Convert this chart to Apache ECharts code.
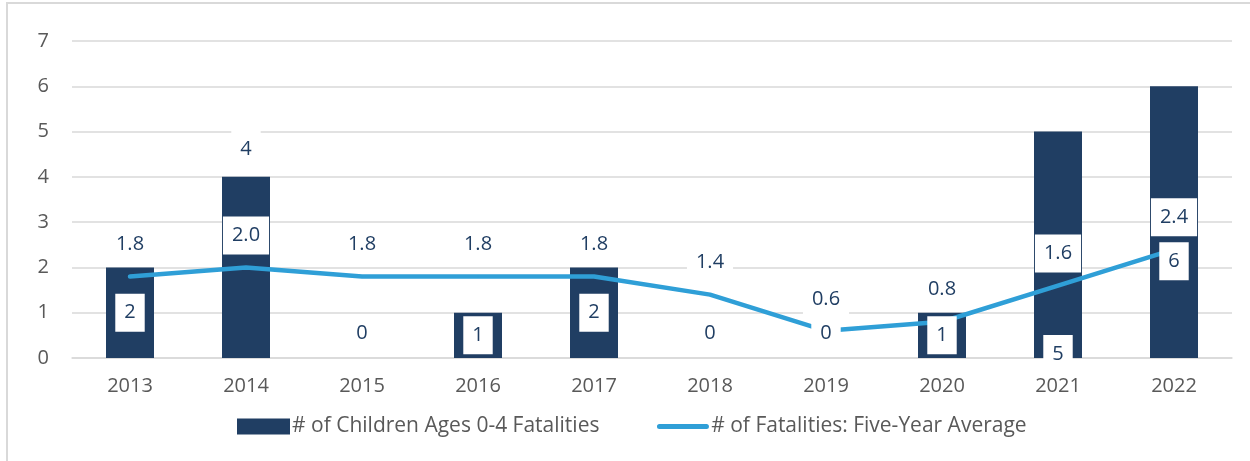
<!DOCTYPE html>
<html>
<head>
<meta charset="utf-8">
<script src="https://cdn.jsdelivr.net/npm/echarts@6/dist/echarts.min.js"></script>
<style>
  html, body { margin: 0; padding: 0; background: #fff; }
  #frame { position: absolute; left: 6px; top: 2px; width: 1260px; height: 470px;
           border-left: 2px solid #d9d9d9; border-top: 2px solid #d9d9d9; }
  #chart { position: absolute; left: 0; top: 0; width: 1250px; height: 461px; }
</style>
</head>
<body>
<div id="frame"></div>
<div id="chart"></div>
<script>
// 数据
const years = ['2013', '2014', '2015', '2016', '2017', '2018', '2019', '2020', '2021', '2022'];
const childFatalities = [2, 4, 0, 1, 2, 0, 0, 1, 5, 6];
const fiveYearAvg = [1.8, 2.0, 1.8, 1.8, 1.8, 1.4, 0.6, 0.8, 1.6, 2.4];
const yTicks = [0, 1, 2, 3, 4, 5, 6, 7];

const barName = '# of Children Ages 0-4 Fatalities';
const lineName = '# of Fatalities: Five-Year Average';

const navy = '#203e63';
const blue = '#2f9fd7';

// 标签的通用样式：白底方框
const boxLabel = {
  show: true,
  color: navy,
  fontFamily: 'Open Sans',
  fontSize: 20,
  lineHeight: 22,
  backgroundColor: '#fff',
  padding: [8, 9]
};

// 个别柱子的标签位置，照原图手动调过
const barLabelTweaks = {
  1: { position: 'top', distance: 9 },
  8: { position: 'insideBottom', distance: -15 },
  9: { position: 'inside', offset: [0, 39] }
};

const barLabelData = childFatalities.map((v, i) => {
  let label = { position: 'inside' };
  if (v === 0) label = { position: 'top', distance: 6 };
  if (barLabelTweaks[i]) label = barLabelTweaks[i];
  return { value: v, label: label };
});

// 图例里的折线：细长圆头线段（前两段只是撑开包围盒）
const lineIcon = 'path://M0,0L0.01,0M0,16L0.01,16M3,5.5L50,5.5A2.5,2.5,0,0,1,50,10.5L3,10.5A2.5,2.5,0,0,1,3,5.5Z';

const chart = echarts.init(document.getElementById('chart'));
chart.setOption({
  animation: false,
  backgroundColor: 'transparent',
  grid: { left: 72, right: 18, top: 41, bottom: 103 },
  legend: {
    left: 237,
    top: 416,
    padding: 0,
    itemWidth: 53,
    itemHeight: 16,
    itemGap: 57,
    textStyle: { color: '#595959', fontFamily: 'Open Sans', fontSize: 21, padding: [0, 0, 0, -3] },
    data: [
      { name: barName, icon: 'rect' },
      { name: lineName, icon: lineIcon, itemStyle: { color: blue } }
    ]
  },
  xAxis: {
    type: 'category',
    data: years,
    axisTick: { show: false },
    axisLine: { lineStyle: { color: '#d9d9d9', width: 1.5 } },
    axisLabel: { color: '#595959', fontFamily: 'Open Sans', fontSize: 20, margin: 18 }
  },
  yAxis: {
    type: 'value',
    min: yTicks[0],
    max: yTicks[yTicks.length - 1],
    interval: 1,
    axisLine: { show: false },
    axisTick: { show: false },
    splitLine: { lineStyle: { color: '#d9d9d9', width: 1.5 } },
    axisLabel: { color: '#595959', fontFamily: 'Open Sans', fontSize: 20, margin: 23 }
  },
  series: [
    {
      name: barName,
      type: 'bar',
      barWidth: 48,
      barGap: '-100%',
      itemStyle: { color: navy },
      data: childFatalities,
      z: 2
    },
    {
      name: lineName,
      type: 'line',
      symbol: 'circle',
      symbolSize: 2,
      itemStyle: { color: blue },
      lineStyle: { color: blue, width: 4.5, cap: 'round' },
      label: Object.assign({}, boxLabel, {
        position: 'top',
        distance: 12,
        formatter: p => p.value.toFixed(1)
      }),
      data: fiveYearAvg,
      z: 3
    },
    {
      // 只放柱子的数值标签，压在折线上面
      name: barName + ' labels',
      type: 'bar',
      barWidth: 48,
      barGap: '-100%',
      silent: true,
      itemStyle: { color: 'rgba(0,0,0,0)' },
      label: boxLabel,
      data: barLabelData,
      z: 4
    }
  ]
});
</script>
</body>
</html>
